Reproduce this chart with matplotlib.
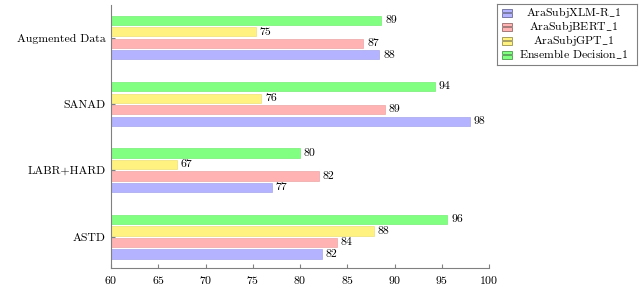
import numpy as np
import matplotlib.pyplot as plt
from matplotlib.patches import Rectangle
from matplotlib.colors import to_rgb

plt.rcParams['font.family'] = ['cmr10', 'DejaVu Serif']
plt.rcParams['mathtext.fontset'] = 'cm'
plt.rcParams['axes.formatter.use_mathtext'] = True

# data (bottom to top)
categories = ["ASTD", "LABR+HARD", "SANAD", "Augmented Data"]
series = ["AraSubjXLM-R_1", "AraSubjBERT_1", "AraSubjGPT_1", "Ensemble Decision_1"]
xlmr = [82.3, 77.0, 98.0, 88.4]
bert = [83.9, 82.0, 89.0, 86.7]
gpt = [87.8, 67.0, 75.9, 75.3]
ensemble = [95.6, 80.0, 94.3, 88.6]
xticks = [60, 65, 70, 75, 80, 85, 90, 95, 100]

colors = ["#b3b3ff", "#ffb3b3", "#fff280", "#80ff80"]

fig = plt.figure(figsize=(6.4, 2.9), dpi=100)
ax = fig.add_axes([111/640, 1 - 268/290, (489 - 111)/640, (268 - 5)/290])

y = np.arange(len(categories))
pitch = 0.173
h = 0.14
for i, (vals, c) in enumerate(zip([xlmr, bert, gpt, ensemble], colors)):
    pos = y + (i - 1.5) * pitch
    ec = [x * 0.93 for x in to_rgb(c)]
    ax.barh(pos, np.array(vals) - 60, left=60, height=h, color=c,
            edgecolor=ec, linewidth=0.5)
    for p, v in zip(pos, vals):
        ax.text(v + 0.4, p, "%d" % round(v), va="center", ha="left", fontsize=8.5)

ax.set_xlim(60, 100)
ax.set_ylim(-0.47, 3.49)
ax.set_xticks(xticks)
ax.set_yticks(y)
ax.set_yticklabels(categories)
for s in ["top", "right"]:
    ax.spines[s].set_visible(False)
for s in ["left", "bottom"]:
    ax.spines[s].set_color("#808080")
ax.tick_params(direction="in", color="#808080", length=3, labelsize=8.5, pad=4)

# legend drawn by hand so the text can be centred like pgfplots
lg = fig.add_axes([497/640, 1 - 65/290, (637 - 497)/640, (65 - 4)/290])
lg.set_xlim(0, 140)
lg.set_ylim(61, 0)
lg.set_xticks([])
lg.set_yticks([])
for s in lg.spines.values():
    s.set_color("#808080")
    s.set_linewidth(0.8)
for i, (name, c) in enumerate(zip(series, colors)):
    yc = 8.5 + i * 14
    ec = [x * 0.6 for x in to_rgb(c)]
    for dy in (-4, 0.8):
        lg.add_patch(Rectangle((5, yc + dy), 10, 3.2, facecolor=c,
                               edgecolor=ec, linewidth=0.6))
    label = name.replace("_", r"$\_$")
    lg.text(77, yc, label, ha="center", va="center", fontsize=8.5)

fig.savefig("out.png", dpi=100)
